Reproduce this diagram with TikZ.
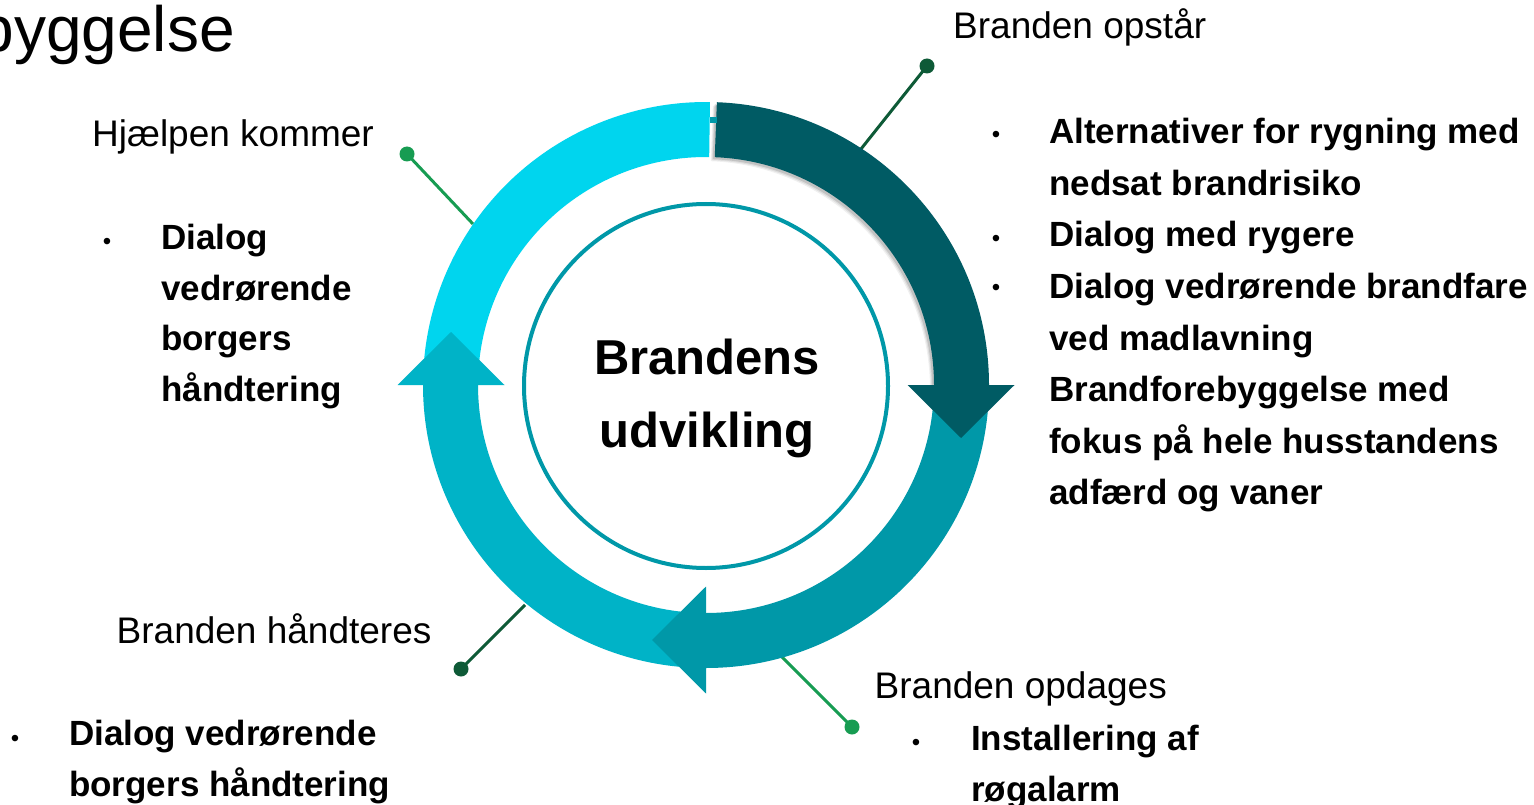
\documentclass[tikz,border=0pt]{standalone}
\usepackage{fontspec}
\setmainfont{Liberation Sans}
\definecolor{cCyan}{HTML}{00D5EE}
\definecolor{cMid}{HTML}{00B3C7}
\definecolor{cTeal}{HTML}{0098A8}
\definecolor{cDark}{HTML}{005B64}
\definecolor{gDark}{HTML}{0E5A37}
\definecolor{gLight}{HTML}{179C52}
\begin{document}
\begin{tikzpicture}[x=1pt,y=1pt,
  lbl/.style={font=\fontsize{37}{44}\selectfont, anchor=base west, inner sep=0pt},
  bld/.style={font=\fontsize{35}{42}\selectfont\bfseries, anchor=base west, inner sep=0pt},
  bul/.style={font=\fontsize{24}{24}\selectfont, anchor=base, inner sep=0pt},
  ctr/.style={font=\fontsize{49}{58}\selectfont\bfseries, anchor=base, inner sep=0pt},
  ttl/.style={font=\fontsize{64}{70}\selectfont, anchor=base east, inner sep=0pt},
  dotn/.style={circle, inner sep=0pt, minimum size=15pt},
  conn/.style={line width=3pt}]
\fill[white] (0,0) rectangle (1534,-805);
\useasboundingbox (0,0) rectangle (1534,-805);

% title fragment
\node[ttl] (title) at (235,-52) {byggelse};

% connectors
\coordinate (r1) at (861,-149);
\coordinate (r2) at (473,-224);
\coordinate (r3) at (525,-605);
\coordinate (r4) at (782,-657);
\node[dotn, fill=gDark] (d1) at (927,-66) {};
\node[dotn, fill=gLight] (d2) at (407,-154) {};
\node[dotn, fill=gDark] (d3) at (461,-669) {};
\node[dotn, fill=gLight] (d4) at (852,-727) {};
\draw[conn, gDark] (r1) -- (d1.center);
\draw[conn, gLight] (r2) -- (d2.center);
\draw[conn, gDark] (r3) -- (d3.center);
\draw[conn, gLight] (r4) -- (d4.center);

% ring
\begin{scope}[shift={(706,-385)}]
  \fill[cCyan] (180:283pt) arc[start angle=180, end angle=89.2, radius=283pt]
     -- (89.2:228pt) arc[start angle=89.2, end angle=180, radius=228pt] -- cycle;
  \fill[cMid] (270:283pt) arc[start angle=270, end angle=180, radius=283pt]
     -- (180:228pt) arc[start angle=180, end angle=270, radius=228pt] -- cycle;
  \fill[cTeal] (360:283pt) arc[start angle=360, end angle=270, radius=283pt]
     -- (270:228pt) arc[start angle=270, end angle=360, radius=228pt] -- cycle;
  % soft shadow of dark segment
  \foreach \o/\op in {4/0.06, 3/0.08, 2/0.12}{
    \fill[black, opacity=\op, shift={(-\o,-\o)}] (87.8:283pt) arc[start angle=87.8, end angle=0, radius=283pt]
       -- (0:228pt) arc[start angle=0, end angle=87.8, radius=228pt] -- cycle;
  }
  \fill[cDark] (87.8:283pt) arc[start angle=87.8, end angle=0, radius=283pt]
     -- (0:228pt) arc[start angle=0, end angle=87.8, radius=228pt] -- cycle;
  % arrowheads
  \fill[cDark] (201.5,0) -- (308.5,0) -- (255,-53) -- cycle;
  \fill[cTeal] (0,-201.5) -- (0,-308.5) -- (-54,-255) -- cycle;
  \fill[cMid] (-308.5,0) -- (-201.5,0) -- (-255,53) -- cycle;
\end{scope}
\fill[cTeal] (710,-117) rectangle (717,-123);

% inner circle
\draw[cTeal, line width=4pt] (706,-386) circle[radius=182pt];
\node[ctr] (c1) at (707,-374) {Brandens};
\node[ctr] (c2) at (707,-447) {udvikling};

% Branden opstaar
\node[lbl] (l1) at (953,-39) {Branden opstår};
\node[bul] (b11) at (996,-143) {•};
\node[bul] (b12) at (996,-247) {•};
\node[bul] (b13) at (996,-295) {•};
\node[bld] (t11) at (1049,-144) {Alternativer for rygning med};
\node[bld] (t12) at (1049,-195.5) {nedsat brandrisiko};
\node[bld] (t13) at (1049,-247) {Dialog med rygere};
\node[bld] (t14) at (1049,-298.5) {Dialog vedrørende brandfare};
\node[bld] (t15) at (1049,-350) {ved madlavning};
\node[bld] (t16) at (1049,-401.5) {Brandforebyggelse med};
\node[bld] (t17) at (1049,-453) {fokus på hele husstandens};
\node[bld] (t18) at (1049,-504.5) {adfærd og vaner};

% Hjaelpen kommer
\node[lbl] (l2) at (92,-147) {Hjælpen kommer};
\node[bul] (b21) at (107,-250) {•};
\node[bld] (t21) at (161,-249) {Dialog};
\node[bld] (t22) at (161,-300) {vedrørende};
\node[bld] (t23) at (161,-350.5) {borgers};
\node[bld] (t24) at (161,-401) {håndtering};

% Branden haandteres
\node[lbl] (l3) at (116.5,-643) {Branden håndteres};
\node[bul] (b31) at (15,-746) {•};
\node[bld] (t31) at (69,-745) {Dialog vedrørende};
\node[bld] (t32) at (69,-796) {borgers håndtering};

% Branden opdages
\node[lbl] (l4) at (874.5,-698) {Branden opdages};
\node[bul] (b41) at (916,-750) {•};
\node[bld] (t41) at (971,-750) {Installering af};
\node[bld] (t42) at (971,-801) {røgalarm};
\end{tikzpicture}
\end{document}
